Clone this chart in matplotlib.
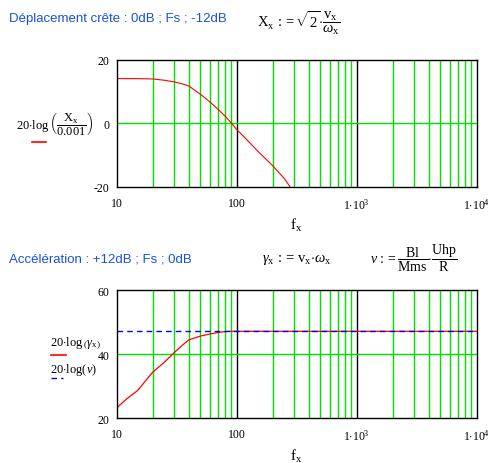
import matplotlib
matplotlib.use("Agg")
import matplotlib.pyplot as plt
from matplotlib.ticker import FixedLocator, NullFormatter
import numpy as np

plt.rcParams['mathtext.fontset'] = 'custom'
plt.rcParams['mathtext.rm'] = 'Liberation Serif'
plt.rcParams['mathtext.it'] = 'Liberation Serif:italic'
plt.rcParams['mathtext.bf'] = 'Liberation Serif:bold'
plt.rcParams['mathtext.default'] = 'rm'

# ---- data ----
freq_disp = [10, 15, 20, 25, 30, 35, 40, 50, 60, 70, 80, 90, 100, 120, 150, 200, 250, 280]
db_disp = [14.0, 14.0, 13.9, 13.5, 13.0, 12.4, 11.7, 9.1, 6.7, 4.4, 2.3, 0.2, -1.9, -4.9, -8.7, -13.3, -17.3, -20.0]

freq_acc = [10, 12, 15, 20, 25, 30, 35, 40, 50, 60, 70, 80, 90, 100, 1000, 10000]
db_acc = [23.1, 25.8, 28.6, 34.3, 37.4, 40.3, 42.6, 44.4, 45.6, 46.25, 46.7, 47.0, 47.1, 47.1, 47.1, 47.1]

db_nu = 47.1

title_top = "Déplacement crête : 0dB ; Fs ; -12dB"
title_bot = "Accélération : +12dB ; Fs ; 0dB"
xtick_vals = [10, 100, 1000, 10000]
xtick_labels = ["10", "100", r"$1{\cdot}10^{3}$", r"$1{\cdot}10^{4}$"]
ytick_top = [-20, 0, 20]
ytick_bot = [20, 40, 60]

W, H = 496, 464
fig = plt.figure(figsize=(W / 100, H / 100), dpi=100)

GREEN = '#00e000'
BLUE_TXT = '#1a50e0'
BLUE = '#0000ff'
serif = 'Liberation Serif'


def fx(px):
    return px / W


def fy(py):
    return 1 - py / H


def make_axes(top, bottom, ylim, yticks, mid):
    ax = fig.add_axes([fx(116.5), fy(bottom), fx(476.5) - fx(116.5), fy(top) - fy(bottom)])
    ax.set_xscale('log')
    ax.set_xlim(10, 10000)
    ax.set_ylim(*ylim)
    minors = [m * 10 ** d for d in range(1, 4) for m in range(2, 10)]
    for v in minors:
        ax.axvline(v, color=GREEN, lw=1.0, zorder=1)
    for v in [100, 1000]:
        ax.axvline(v, color='black', lw=1.0, zorder=1)
    ax.axhline(mid, color=GREEN, lw=1.0, zorder=1)
    ax.xaxis.set_major_locator(FixedLocator(xtick_vals))
    ax.xaxis.set_minor_locator(FixedLocator([]))
    ax.xaxis.set_minor_formatter(NullFormatter())
    ax.set_xticks(xtick_vals)
    ax.set_xticklabels(xtick_labels, fontfamily=serif, fontsize=8.5)
    ax.set_yticks(yticks)
    ax.set_yticklabels([str(v) for v in yticks], fontfamily=serif, fontsize=8.5)
    ax.tick_params(axis='x', length=0, pad=7)
    ax.tick_params(axis='y', length=0, pad=5)
    for s in ax.spines.values():
        s.set_linewidth(1.0)
        s.set_color('black')
        s.set_zorder(5)
    ax.set_xlabel(r'$\mathrm{f}_{\mathrm{x}}$', fontsize=11, labelpad=3)
    return ax


ax1 = make_axes(60.5, 188, (-20, 20), ytick_top, 0)
ax1.plot(freq_disp, db_disp, color='red', lw=0.8, zorder=3)

ax2 = make_axes(291, 419, (20, 60), ytick_bot, 40)
ax2.plot(freq_acc, db_acc, color='red', lw=0.9, zorder=3)
ax2.axhline(db_nu, color=BLUE, lw=1.0, dashes=(4, 3), zorder=4)

# titles
fig.text(fx(9), fy(22), title_top, color=BLUE_TXT, fontsize=9.5, fontfamily='Liberation Sans')
fig.text(fx(9), fy(262), title_bot, color=BLUE_TXT, fontsize=9.5, fontfamily='Liberation Sans')

# formulas
fig.text(fx(257), fy(23), r'$\mathrm{X}_{\mathrm{x}}\,{:}{=}\sqrt{2}{\cdot}\dfrac{\mathrm{v}_{\mathrm{x}}}{\mathit{\omega}_{\mathrm{x}}}$',
         fontsize=10.5, va='center')
fig.text(fx(262), fy(260), r'$\mathit{\gamma}_{\mathrm{x}}\,{:}{=}\,\mathrm{v}_{\mathrm{x}}{\cdot}\mathit{\omega}_{\mathrm{x}}$',
         fontsize=10.5, va='center')
fig.text(fx(370), fy(258), r'$\mathit{\nu}\,{:}{=}\dfrac{\mathrm{Bl}}{\mathrm{Mms}}{\cdot}\dfrac{\mathrm{Uhp}}{\mathrm{R}}$',
         fontsize=10, va='center')

# legends
fig.text(fx(93), fy(124), r'$20{\cdot}\log\left(\dfrac{\mathrm{X}_{\mathrm{x}}}{0.001}\right)$', fontsize=9,
         va='center', ha='right')
fig.lines.append(plt.Line2D([fx(32), fx(46)], [fy(143), fy(143)], color='red', lw=1.2, transform=fig.transFigure))

fig.text(fx(50), fy(343), r'$20{\cdot}\log\left(\mathit{\gamma}_{\mathrm{x}}\right)$', fontsize=9, va='center')
fig.lines.append(plt.Line2D([fx(51), fx(66)], [fy(355.5), fy(355.5)], color='red', lw=1.2, transform=fig.transFigure))
fig.text(fx(50), fy(370), r'$20{\cdot}\log(\mathit{\nu})$', fontsize=9, va='center')
fig.lines.append(plt.Line2D([fx(51), fx(63)], [fy(379), fy(379)], color=BLUE, lw=1.0,
                            dashes=(4, 3), transform=fig.transFigure))

fig.savefig('out.png', dpi=100)
